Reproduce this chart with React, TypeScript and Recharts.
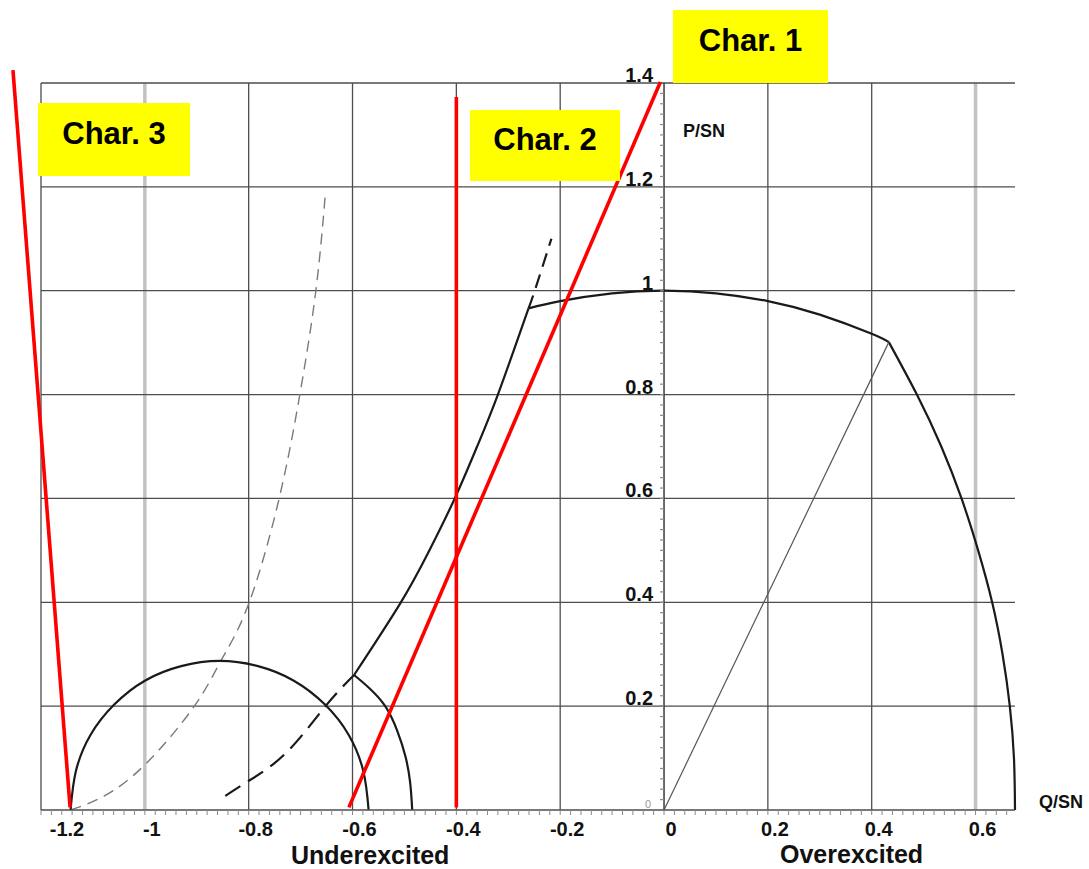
import { ComposedChart, Line, Scatter, XAxis, YAxis, ReferenceLine } from 'recharts'

const FONT = '"Liberation Sans", Arial, sans-serif'

// axis ticks (Q/SN horizontal, P/SN vertical)
const X_MAJOR = [-1.2, -1, -0.8, -0.6, -0.4, -0.2, 0, 0.2, 0.4, 0.6]
const X_LABELS = ['-1.2', '-1', '-0.8', '-0.6', '-0.4', '-0.2', '0', '0.2', '0.4', '0.6']
const Y_MAJOR = [0.2, 0.4, 0.6, 0.8, 1, 1.2, 1.4]
const Y_LABELS = ['0.2', '0.4', '0.6', '0.8', '1', '1.2', '1.4']
const FADED_Q = [-1, 0.6]

// capability diagram curves
const statorArc = [
  { q: -0.261, p: 0.966 }, { q: -0.2, p: 0.98 }, { q: -0.1, p: 0.995 }, { q: 0, p: 1 },
  { q: 0.1, p: 0.995 }, { q: 0.2, p: 0.98 }, { q: 0.3, p: 0.954 }, { q: 0.4, p: 0.917 },
  { q: 0.433, p: 0.901 },
]
const rotorArc = [
  { q: 0.433, p: 0.901 }, { q: 0.487, p: 0.8 }, { q: 0.534, p: 0.7 }, { q: 0.573, p: 0.6 },
  { q: 0.605, p: 0.5 }, { q: 0.632, p: 0.4 }, { q: 0.652, p: 0.3 }, { q: 0.666, p: 0.2 },
  { q: 0.674, p: 0.1 }, { q: 0.676, p: 0 },
]
const ratedLine = [{ q: 0, p: 0 }, { q: 0.433, p: 0.901 }]
const ueLow = [
  { q: -0.845, p: 0.027 }, { q: -0.8, p: 0.056 }, { q: -0.728, p: 0.11 },
  { q: -0.652, p: 0.2 }, { q: -0.597, p: 0.26 },
]
const ueMid = [
  { q: -0.597, p: 0.26 }, { q: -0.508, p: 0.398 }, { q: -0.455, p: 0.494 },
  { q: -0.404, p: 0.598 }, { q: -0.36, p: 0.7 }, { q: -0.32, p: 0.8 }, { q: -0.261, p: 0.966 },
]
const ueHigh = [{ q: -0.261, p: 0.966 }, { q: -0.249, p: 1.0 }, { q: -0.217, p: 1.1 }]
const outerArc = [
  { q: -0.597, p: 0.26 }, { q: -0.568, p: 0.235 }, { q: -0.537, p: 0.2 }, { q: -0.514, p: 0.153 },
  { q: -0.498, p: 0.103 }, { q: -0.489, p: 0.053 }, { q: -0.485, p: 0 },
]
const excCircle = [
  { q: -1.143, p: 0 }, { q: -1.133, p: 0.074 }, { q: -1.105, p: 0.144 }, { q: -1.059, p: 0.203 },
  { q: -1.0, p: 0.249 }, { q: -0.93, p: 0.277 }, { q: -0.856, p: 0.287 }, { q: -0.782, p: 0.277 },
  { q: -0.713, p: 0.249 }, { q: -0.653, p: 0.203 }, { q: -0.607, p: 0.144 }, { q: -0.579, p: 0.074 },
  { q: -0.569, p: 0 },
]
const stabilityCurve = [
  { q: -1.143, p: 0 }, { q: -1.078, p: 0.027 }, { q: -0.997, p: 0.09 }, { q: -0.904, p: 0.201 },
  { q: -0.852, p: 0.29 }, { q: -0.8, p: 0.397 }, { q: -0.742, p: 0.597 }, { q: -0.702, p: 0.797 },
  { q: -0.671, p: 0.997 }, { q: -0.652, p: 1.19 },
]

// protection characteristics (red)
const char1 = [{ x: -0.607, y: 0.005 }, { x: -0.007, y: 1.402 }]
const char2 = [{ x: -0.4, y: 0.005 }, { x: -0.4, y: 1.373 }]
const char3 = [{ x: -1.254, y: 1.425 }, { x: -1.144, y: 0.005 }]

const step = (from: number, to: number) => {
  const out: number[] = []
  for (let i = Math.round(from * 50); i <= Math.round(to * 50); i++) out.push(Math.round(i * 2) / 100)
  return out
}
const xTicks = step(-1.2, 0.66)
const yMinor = step(0.02, 1.38).map(p => ({ q: 0, p }))
const yLabelData = Y_MAJOR.map((p, i) => ({ q: 0, p, label: Y_LABELS[i] }))

function XTick({ x, y, payload }: any) {
  const i = X_MAJOR.findIndex(v => Math.abs(v - payload.value) < 1e-6)
  if (i < 0) return <g />
  return (
    <text x={x + (i === 0 ? 26 : 7)} y={y + 19} textAnchor="middle" fontSize={20} fontWeight="bold" fill="#111" fontFamily={FONT}>
      {X_LABELS[i]}
    </text>
  )
}

const YMinorTick = ({ cx, cy }: any) => <line x1={cx - 4} x2={cx} y1={cy} y2={cy} stroke="#8a8a8a" strokeWidth={1.2} />
const YLabel = ({ cx, cy, payload }: any) => (
  <text x={cx - 11} y={cy - 1} textAnchor="end" fontSize={20} fontWeight="bold" fill="#111" fontFamily={FONT}>{payload.label}</text>
)
const ZeroLabel = ({ cx, cy }: any) => (
  <text x={cx - 19} y={cy - 2} fontSize={11} fill="#999" fontFamily={FONT}>0</text>
)

const curve = { dataKey: 'p', dot: false, activeDot: false, isAnimationActive: false, stroke: '#1a1a1a', strokeWidth: 2.2 }

const Note = ({ left, top, width, height, text }: any) => (
  <div style={{
    position: 'absolute', left, top, width, height, background: '#ffff00', display: 'flex',
    alignItems: 'center', justifyContent: 'center', paddingBottom: 12, boxSizing: 'border-box',
    fontFamily: FONT, fontWeight: 'bold', fontSize: 31, color: '#000',
  }}>{text}</div>
)

export default function App() {
  return (
    <div style={{ position: 'absolute', left: 0, top: 0, width: 1089, height: 869, background: '#fff', overflow: 'hidden' }}>
      <ComposedChart width={1089} height={869} margin={{ top: 83, right: 74, bottom: 0, left: 41 }}>
        <XAxis type="number" dataKey="q" domain={[-1.2, 0.676]} ticks={xTicks} interval={0}
          tick={XTick} tickSize={5} tickLine={{ stroke: '#8a8a8a' }} axisLine={{ stroke: '#4d4d4d', strokeWidth: 1.3 }} height={59} />
        <YAxis type="number" dataKey="p" domain={[0, 1.4]} hide />

        {X_MAJOR.filter(v => v !== 0).map(v => (
          <ReferenceLine key={'gx' + v} x={v}
            stroke={FADED_Q.includes(v) ? '#c2c2c2' : '#4d4d4d'} strokeWidth={FADED_Q.includes(v) ? 3.5 : 1.3} />
        ))}
        {Y_MAJOR.map(v => <ReferenceLine key={'gy' + v} y={v} stroke="#4d4d4d" strokeWidth={1.3} />)}
        <ReferenceLine x={0} stroke="#3a3a3a" strokeWidth={1.5} />

        <Scatter data={yMinor} shape={YMinorTick} isAnimationActive={false} />
        <Scatter data={yLabelData} shape={YLabel} isAnimationActive={false} />
        <Scatter data={[{ q: 0, p: 0 }]} shape={ZeroLabel} isAnimationActive={false} />

        <Line data={stabilityCurve} {...curve} type="natural" stroke="#7a7a7a" strokeWidth={1.4} strokeDasharray="11 7" />
        <Line data={excCircle} {...curve} type="natural" />
        <Line data={outerArc} {...curve} type="natural" />
        <Line data={ueLow} {...curve} type="natural" strokeDasharray="18 9" />
        <Line data={ueMid} {...curve} type="natural" />
        <Line data={ueHigh} {...curve} type="natural" strokeDasharray="14 8" />
        <Line data={statorArc} {...curve} type="natural" />
        <Line data={rotorArc} {...curve} type="natural" />
        <Line data={ratedLine} {...curve} type="linear" stroke="#555" strokeWidth={1.2} />

        <ReferenceLine segment={char1} stroke="#ff0000" strokeWidth={3.6} ifOverflow="visible" />
        <ReferenceLine segment={char2} stroke="#ff0000" strokeWidth={3.6} ifOverflow="visible" />
        <ReferenceLine segment={char3} stroke="#ff0000" strokeWidth={3.6} ifOverflow="visible" />
      </ComposedChart>

      <Note left={673} top={10} width={155} height={73} text="Char. 1" />
      <Note left={470} top={110} width={150} height={71} text="Char. 2" />
      <Note left={38} top={103} width={152} height={73} text="Char. 3" />

      <svg width={1089} height={869} style={{ position: 'absolute', left: 0, top: 0, pointerEvents: 'none' }}>
        <g fontFamily={FONT} fontWeight="bold" fill="#111">
          <text x={683} y={137} fontSize={18}>P/SN</text>
          <text x={1039} y={808} fontSize={18}>Q/SN</text>
          <text x={291} y={863.5} fontSize={25}>Underexcited</text>
          <text x={780} y={863} fontSize={25}>Overexcited</text>
        </g>
      </svg>
    </div>
  )
}
